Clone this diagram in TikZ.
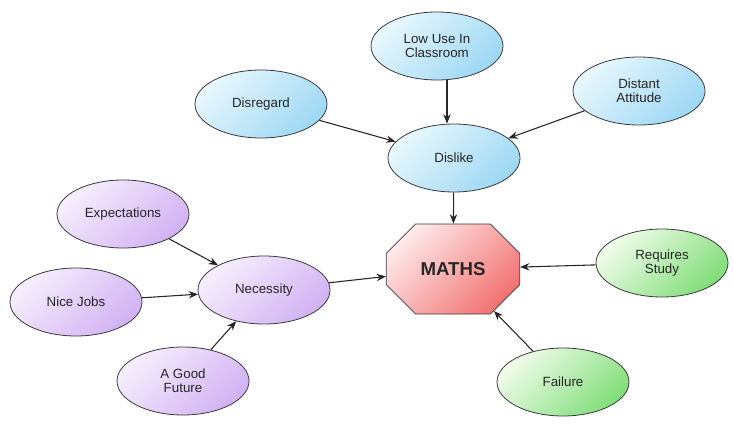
\documentclass[tikz,border=0pt]{standalone}
\usepackage{fontspec}
\setmainfont{Liberation Sans}
\usetikzlibrary{shapes.geometric,shapes.misc,arrows.meta}
\definecolor{bluelo}{HTML}{E8F7FD}
\definecolor{bluehi}{HTML}{9ED8F4}
\definecolor{purplelo}{HTML}{F6EEFD}
\definecolor{purplehi}{HTML}{D2B2F3}
\definecolor{greenlo}{HTML}{F0FCEA}
\definecolor{greenhi}{HTML}{82DE7A}
\definecolor{redlo}{HTML}{FFE8E8}
\definecolor{redhi}{HTML}{F27474}
\definecolor{rim}{HTML}{3A3A3A}
\tikzset{
  bubble/.style={ellipse, draw=rim, line width=0.6pt, minimum width=99pt, minimum height=51pt,
    inner sep=0pt, align=center, font=\fontsize{10}{10.5}\selectfont, text=black!85},
  bluebub/.style={bubble, top color=bluelo, bottom color=bluehi, shading angle=45},
  purplebub/.style={bubble, top color=purplelo, bottom color=purplehi, shading angle=45},
  greenbub/.style={bubble, top color=greenlo, bottom color=greenhi, shading angle=45},
  link/.style={->, line width=0.8pt, black!85}
}
\begin{document}
\begin{tikzpicture}[x=0.75pt, y=-0.75pt, >={Stealth[length=7pt,width=5.5pt]}]
  \useasboundingbox (0,0) rectangle (734,424);
  % centre
  \node[chamfered rectangle, chamfered rectangle xsep=30pt, chamfered rectangle ysep=17pt,
        minimum width=100pt, minimum height=67.5pt, inner sep=0pt, draw=rim, line width=0.6pt,
        top color=redlo, bottom color=redhi, shading angle=45,
        font=\fontsize{14}{14}\selectfont\bfseries, text=black!85] (maths) at (453,269) {MATHS};
  % blue cluster
  \node[bluebub] (dislike) at (454,158) {Dislike};
  \node[bluebub] (lowuse) at (437,46) {Low Use In\\Classroom};
  \node[bluebub] (disregard) at (261,104) {Disregard};
  \node[bluebub] (distant) at (639,91) {Distant\\Attitude};
  % purple cluster
  \node[purplebub] (necessity) at (264,290) {Necessity};
  \node[purplebub] (expect) at (123,214) {Expectations};
  \node[purplebub] (nicejobs) at (76,302) {Nice Jobs};
  \node[purplebub] (future) at (183,381) {A Good\\Future};
  % green
  \node[greenbub] (study) at (662,263) {Requires\\Study};
  \node[greenbub] (failure) at (563,382) {Failure};

  \draw[link] (lowuse.south -| 447,0) -- (dislike.north -| 447,0);
  \draw[link] (disregard) -- (dislike);
  \draw[link] (distant) -- (dislike);
  \draw[link] (dislike) -- (maths);
  \draw[link] (expect) -- (necessity);
  \draw[link] (nicejobs) -- (necessity);
  \draw[link] (future) -- (necessity);
  \draw[link] (necessity) -- (maths);
  \draw[link] (study) -- (maths);
  \draw[link] (failure) -- (maths);
\end{tikzpicture}
\end{document}
